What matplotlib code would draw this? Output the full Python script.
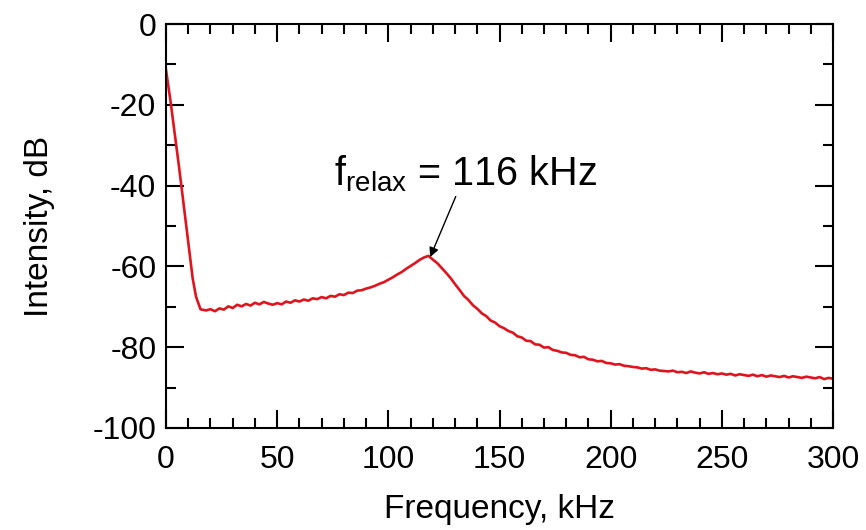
import matplotlib.pyplot as plt
from matplotlib.ticker import MultipleLocator

plt.rcParams['font.family'] = ['Liberation Sans', 'DejaVu Sans']
plt.rcParams['mathtext.default'] = 'regular'
plt.rcParams['axes.unicode_minus'] = False

# Spectrum
freq_khz = [0, 2, 4, 6, 8, 10, 12, 13.5, 15.5,
            16, 18, 20, 22, 24, 26, 28, 30, 32, 34, 36, 38, 40, 42, 44, 46, 48,
            50, 52, 54, 56, 58, 60, 62, 64, 66, 68, 70, 72, 74, 76, 78, 80, 82,
            84, 86, 88, 90, 92, 94, 96, 98, 100, 102, 104, 106, 108, 110, 112,
            114, 116, 118, 120, 122, 124, 126, 128, 130, 132, 134, 136, 138, 140,
            142, 144, 146, 148, 150, 152, 154, 156, 158, 160, 162, 164, 166, 168,
            170, 172, 174, 176, 178, 180, 182, 184, 186, 188, 190, 192, 194, 196,
            198, 200, 202, 204, 206, 208, 210, 212, 214, 216, 218, 220, 222, 224,
            226, 228, 230, 232, 234, 236, 238, 240, 242, 244, 246, 248, 250, 252,
            254, 256, 258, 260, 262, 264, 266, 268, 270, 272, 274, 276, 278, 280,
            282, 284, 286, 288, 290, 292, 294, 296, 298, 300]
intensity_db = [-11.4, -19, -27.5, -36, -45, -54, -63, -67.5, -70.6,
                -70.7, -70.9, -70.6, -71.1, -70.4, -70.7, -69.9, -70.3, -69.5, -69.9,
                -69.3, -69.7, -69.0, -69.4, -68.8, -69.2, -69.5, -69.1, -69.4, -68.7,
                -69.0, -68.4, -68.7, -68.2, -68.5, -67.9, -68.1, -67.6, -67.9, -67.3,
                -67.5, -66.9, -67.1, -66.5, -66.6, -66.0, -65.9, -65.5, -65.2, -64.8,
                -64.3, -63.9, -63.3, -62.7, -62.0, -61.4, -60.6, -59.9, -59.2, -58.4,
                -57.8, -57.4, -58.3, -59.2, -60.4, -61.6, -62.9, -64.4, -65.8, -67.3,
                -68.3, -69.6, -70.5, -71.6, -72.3, -73.4, -73.9, -74.8, -75.3, -76.0,
                -76.4, -77.3, -77.6, -78.4, -78.5, -79.3, -79.4, -80.1, -80.0, -80.7,
                -80.9, -81.3, -81.4, -81.9, -82.0, -82.5, -82.4, -83.0, -83.1, -83.5,
                -83.4, -83.9, -84.0, -84.3, -84.2, -84.6, -84.7, -84.9, -85.0, -85.3,
                -85.2, -85.6, -85.5, -85.8, -85.9, -86.0, -85.8, -86.2, -86.1, -86.4,
                -86.0, -86.3, -86.5, -86.2, -86.6, -86.4, -86.7, -86.5, -86.8, -86.6,
                -87.0, -86.7, -86.9, -87.1, -86.8, -87.2, -86.9, -87.3, -87.0, -87.2,
                -87.4, -87.1, -87.5, -87.2, -87.4, -87.6, -87.3, -87.5, -87.7, -87.4,
                -87.9, -87.6, -87.8]

peak_khz = 118.8
peak_db = -57.7

fig = plt.figure(figsize=(8.66, 5.30), dpi=100)
ax = fig.add_axes([0.1917, 0.1925, 0.7702, 0.7622])

ax.plot(freq_khz, intensity_db, color='#e0141e', linewidth=1.9)

ax.set_xlim(0, 300)
ax.set_ylim(-100, 0)
ax.xaxis.set_major_locator(MultipleLocator(50))
ax.xaxis.set_minor_locator(MultipleLocator(10))
ax.yaxis.set_major_locator(MultipleLocator(20))
ax.yaxis.set_minor_locator(MultipleLocator(10))
ax.tick_params(which='both', direction='in', top=True, right=True, width=1.5,
               labelsize=23)
ax.tick_params(which='major', length=13)
ax.tick_params(which='minor', length=7)
ax.tick_params(axis='x', which='major', pad=12)
ax.tick_params(axis='y', which='major', pad=7)
for s in ax.spines.values():
    s.set_linewidth(1.5)

ax.set_xlabel('Frequency, kHz', fontsize=24, labelpad=14)
ax.set_ylabel('Intensity, dB', fontsize=24, labelpad=27)

ax.annotate(r'f$_{relax}$ = 116 kHz', xy=(peak_khz, peak_db), xytext=(134.7, -39.9),
            fontsize=28.5, ha='center', va='baseline',
            arrowprops=dict(arrowstyle='-|>', color='black', lw=1,
                            shrinkA=0, shrinkB=0, mutation_scale=14))

fig.savefig('out.png', dpi=100)
